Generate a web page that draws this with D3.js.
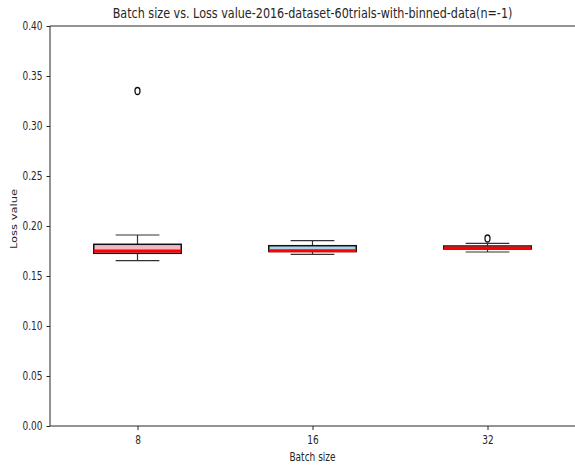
<!DOCTYPE html>
<html><head><meta charset="utf-8">
<script src="https://cdn.jsdelivr.net/npm/d3@7"></script>
<style>
body{margin:0;background:#fff;}
text{font-family:"DejaVu Sans",sans-serif;fill:#262626;}
</style></head><body>
<svg id="c" width="575" height="470"></svg>
<script>
const categories = ["8","16","32"];
const whiskerHigh = [0.191, 0.1853, 0.1827];
const q3 = [0.1817, 0.1803, 0.1800];
const medians = [0.1750, 0.1753, 0.1780];
const q1 = [0.1727, 0.1745, 0.1770];
const whiskerLow = [0.1653, 0.1717, 0.1740];
const outliers = [[0.335],[],[0.1875]];
const boxFills = ["#f4b6c2","#a9d3e8","#b5e3b5"];
const yTicks = [0,0.05,0.10,0.15,0.20,0.25,0.30,0.35,0.40];

const SX = 0.75;
const svg = d3.select("#c");
const m = {l:50, r:0, t:26, b:44};
const W = 575, H = 470;
const x = d3.scaleLinear().domain([0.5,3.5]).range([m.l, W-m.r]);
const y = d3.scaleLinear().domain([0,0.40]).range([H-m.b, m.t]);
const unit = x(2)-x(1);

const ya = svg.append("g").attr("transform",`translate(${m.l},0)`)
  .call(d3.axisLeft(y).tickValues(yTicks).tickFormat(d3.format(".2f")).tickSize(3.5).tickPadding(4));
const xa = svg.append("g").attr("transform",`translate(0,${H-m.b})`)
  .call(d3.axisBottom(x).tickValues([1,2,3]).tickFormat((d,i)=>categories[i]).tickSize(4).tickPadding(5));
[ya,xa].forEach(a=>{a.selectAll("text").attr("font-size",12).style("fill","#262626")
    .attr("transform",`scale(${SX},1)`);
  a.select(".domain").attr("stroke","#262626").attr("stroke-width",1);
  a.selectAll(".tick line").attr("stroke","#262626");});
ya.selectAll(".tick text").attr("x", -7.5/SX);
xa.select(".domain").attr("d",`M${m.l},0H${W}`);
ya.select(".domain").attr("d",`M0,${m.t}V${H-m.b}`);
svg.append("line").attr("x1",m.l).attr("x2",W).attr("y1",m.t).attr("y2",m.t).attr("stroke","#262626");

const g = svg.append("g");
categories.forEach((c,i)=>{
  const cx = x(i+1), bw = unit*0.5, cw = unit*0.25;
  const ln = (x1,x2,y1,y2)=>g.append("line").attr("x1",x1).attr("x2",x2).attr("y1",y1).attr("y2",y2).attr("stroke","#333").attr("stroke-width",1.2);
  ln(cx,cx,y(q3[i]),y(whiskerHigh[i]));
  ln(cx,cx,y(q1[i]),y(whiskerLow[i]));
  ln(cx-cw/2,cx+cw/2,y(whiskerHigh[i]),y(whiskerHigh[i]));
  ln(cx-cw/2,cx+cw/2,y(whiskerLow[i]),y(whiskerLow[i]));
  g.append("rect").attr("x",cx-bw/2).attr("width",bw).attr("y",y(q3[i])).attr("height",y(q1[i])-y(q3[i]))
    .attr("fill",boxFills[i]).attr("stroke","#111").attr("stroke-width",1.5);
  g.append("line").attr("x1",cx-bw/2).attr("x2",cx+bw/2).attr("y1",y(medians[i])).attr("y2",y(medians[i])).attr("stroke","#ff0000").attr("stroke-width",3);
  outliers[i].forEach(v=>{
    g.append("ellipse").attr("cx",cx).attr("cy",y(v)).attr("rx",2.5).attr("ry",3.5).attr("fill","none").attr("stroke","#111").attr("stroke-width",1.3);
  });
});

const cxm = (m.l+W)/2;
svg.append("text").attr("transform",`translate(${cxm},18) scale(0.8,1)`).attr("text-anchor","middle").attr("font-size",14).text("Batch size vs. Loss value-2016-dataset-60trials-with-binned-data(n=-1)");
svg.append("text").attr("transform",`translate(${cxm},461) scale(${SX},1)`).attr("text-anchor","middle").attr("font-size",12).text("Batch size");
svg.append("text").attr("transform",`translate(17,${(m.t+H-m.b)/2 - 7}) rotate(-90) scale(1,${SX})`).attr("text-anchor","middle").attr("font-size",11.5).text("Loss value");
</script></body></html>
